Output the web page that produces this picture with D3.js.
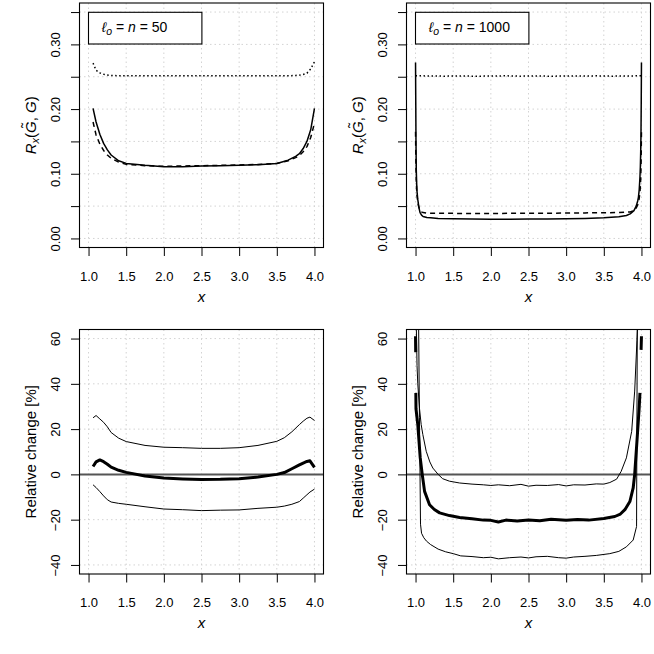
<!DOCTYPE html>
<html>
<head>
<meta charset="utf-8">
<script src="https://cdn.jsdelivr.net/npm/d3@7"></script>
<style>
  body { margin: 0; background: #fff; }
  text { font-family: "Liberation Sans", Arial, Helvetica, sans-serif; font-size: 13px; fill: #000; }
</style>
</head>
<body>
<svg id="chart" width="654" height="654"></svg>
<script>
// ---- data ----

// top left, l_o = n = 50
var tlX      = [1.06, 1.1, 1.15, 1.2, 1.25, 1.3, 1.4, 1.5, 1.75, 2.0, 2.25, 2.5, 2.75, 3.0, 3.25, 3.5, 3.65, 3.75, 3.8, 3.85, 3.9, 3.95, 4.0];
var tlSolid  = [0.201, 0.180, 0.161, 0.147, 0.137, 0.129, 0.120, 0.116, 0.113, 0.111, 0.111, 0.112, 0.1125, 0.113, 0.114, 0.116, 0.121, 0.127, 0.131, 0.139, 0.150, 0.168, 0.201];
var tlDashed = [0.180, 0.160, 0.146, 0.136, 0.129, 0.124, 0.118, 0.1145, 0.1125, 0.1115, 0.112, 0.1125, 0.113, 0.1135, 0.1145, 0.116, 0.120, 0.125, 0.128, 0.134, 0.142, 0.156, 0.178];
var tlDotted = [0.271, 0.260, 0.256, 0.254, 0.2525, 0.252, 0.2515, 0.2515, 0.2515, 0.2515, 0.2515, 0.2515, 0.2515, 0.2515, 0.2515, 0.2515, 0.2515, 0.252, 0.2525, 0.2535, 0.2555, 0.262, 0.273];

// top right, l_o = n = 1000
var trX      = [1.0, 1.003, 1.006, 1.01, 1.015, 1.02, 1.03, 1.04, 1.05, 1.06, 1.08, 1.1, 1.15, 1.2, 1.3, 1.5, 1.75, 2.0, 2.25, 2.5, 2.75, 3.0, 3.25, 3.5, 3.7, 3.8, 3.85, 3.9, 3.93, 3.95, 3.96, 3.97, 3.98, 3.985, 3.99, 3.994, 3.997, 4.0];
var trSolid  = [0.272, 0.21, 0.15, 0.105, 0.085, 0.072, 0.060, 0.052, 0.045, 0.040, 0.036, 0.034, 0.0325, 0.032, 0.031, 0.0305, 0.030, 0.0295, 0.0297, 0.030, 0.030, 0.0303, 0.031, 0.032, 0.0335, 0.0355, 0.038, 0.043, 0.050, 0.058, 0.064, 0.075, 0.095, 0.11, 0.135, 0.165, 0.21, 0.272];
var trDashed = [0.165, 0.135, 0.11, 0.090, 0.075, 0.066, 0.056, 0.050, 0.046, 0.043, 0.041, 0.040, 0.039, 0.039, 0.0388, 0.0388, 0.0385, 0.0385, 0.0388, 0.039, 0.039, 0.0392, 0.0395, 0.0398, 0.040, 0.0405, 0.041, 0.043, 0.047, 0.052, 0.056, 0.062, 0.072, 0.080, 0.092, 0.11, 0.135, 0.165];
var trDotX   = [1.0, 1.2, 1.4, 1.6, 1.8, 2.0, 2.2, 2.4, 2.6, 2.8, 3.0, 3.2, 3.4, 3.6, 3.8, 4.0];
var trDotted = [0.2515, 0.2512, 0.2509, 0.2513, 0.2508, 0.2511, 0.2514, 0.2509, 0.2512, 0.2508, 0.2513, 0.2510, 0.2514, 0.2509, 0.2512, 0.2515];

// bottom left, relative change [%]
var blX     = [1.06, 1.1, 1.15, 1.2, 1.25, 1.3, 1.4, 1.5, 1.75, 2.0, 2.25, 2.5, 2.75, 3.0, 3.25, 3.5, 3.6, 3.7, 3.8, 3.85, 3.9, 3.94, 4.0];
var blUpper = [25, 26, 24.5, 23, 21, 18.5, 16, 14.5, 12.8, 12.0, 11.8, 11.5, 11.5, 11.8, 12.8, 14.6, 16.2, 18.8, 22, 23.5, 24.8, 25.3, 23.8];
var blMid   = [3.5, 5.5, 6.4, 5.6, 4.5, 3.2, 1.8, 0.9, -0.7, -1.6, -2.0, -2.3, -2.2, -1.9, -1.2, 0.0, 0.8, 2.5, 4.2, 5.0, 5.7, 6.0, 3.1];
var blLower = [-4.6, -5.8, -7.6, -9.5, -11.2, -12.2, -12.8, -13.2, -14.3, -15.3, -15.6, -16.0, -15.8, -15.7, -15.0, -14.5, -14.0, -13.2, -12.0, -10.5, -9.0, -7.8, -6.5];

// bottom right, relative change [%]  (null = gap in the line)
var brUpX  = [1.008, 1.02, 1.03, 1.053, 1.075, 1.097, 1.142, 1.19, 1.23, 1.3, 1.36, 1.45, 1.585, 1.75, 1.9, 2.0, 2.1, 2.25, 2.4, 2.5, 2.6, 2.75, 2.9, 3.0, 3.1, 3.25, 3.4, 3.5, 3.58, 3.67, 3.73, 3.8, 3.87, 3.91, 3.94, 3.955];
var brUp   = [70, 48, 40, 29, 22, 17.6, 10.2, 5.5, 2.8, 0, -1.9, -3.0, -3.8, -4.3, -4.6, -4.9, -4.6, -5.0, -4.4, -5.2, -4.8, -4.9, -4.5, -5.1, -4.6, -4.7, -4.2, -4.3, -3.6, -2.1, 1.3, 7.3, 19, 36.8, 59, 70];
var brMidX = [1.0, 1.002, 1.003, 1.004, 1.006, 1.03, 1.062, 1.089, 1.12, 1.186, 1.25, 1.32, 1.45, 1.585, 1.75, 1.9, 2.0, 2.1, 2.2, 2.35, 2.5, 2.65, 2.8, 3.0, 3.15, 3.3, 3.5, 3.646, 3.72, 3.78, 3.846, 3.89, 3.91, 3.94, 3.97, 3.98, 3.985, 3.995, 4.0];
var brMid  = [61, 54, null, 36, 29, 22, 7.4, 0, -7.5, -13.4, -15.5, -17, -18.2, -19, -19.6, -20.2, -20.3, -21, -20.2, -20.6, -20.1, -20.5, -19.8, -20.3, -19.9, -20.2, -19.5, -18.6, -17.5, -15.6, -12, -6, 0, 14.6, 29.6, 36, null, 55, 61];
var brLowX = [1.04, 1.052, 1.066, 1.08, 1.11, 1.146, 1.2, 1.3, 1.4, 1.5, 1.6, 1.75, 1.9, 2.0, 2.1, 2.25, 2.4, 2.5, 2.6, 2.75, 2.9, 3.0, 3.1, 3.25, 3.4, 3.58, 3.7, 3.8, 3.89, 3.935, 3.945];
var brLow  = [70, 25, -22, -26, -28, -29.5, -31, -33, -34.2, -35, -36, -36.3, -36.8, -36.6, -37.3, -36.8, -36.5, -36.9, -36.4, -36.2, -36.8, -37, -36.5, -36.2, -35.8, -35, -34, -32, -29, -23, 70];

// ticks
var xTicks   = [1, 1.5, 2, 2.5, 3, 3.5, 4];
var topTicks = [0, 0.05, 0.1, 0.15, 0.2, 0.25, 0.3, 0.35];
var botTicks = [-40, -20, 0, 20, 40, 60];

// ---- drawing ----
var svg = d3.select('#chart');
var panelW = 244, panelH = 244.5;
var labSize = '15px';

function zip(xs, ys) {
  return xs.map(function (d, i) { return [d, ys[i]]; });
}

function drawPanel(p) {
  var left = 79.5 + p.col * 327;
  var top = p.row === 0 ? 3 : 329.5;
  var x = d3.scaleLinear().domain([0.88, 4.12]).range([left, left + panelW]);
  var y = d3.scaleLinear().domain(p.yDomain).range([top + panelH, top]);
  var g = svg.append('g');

  g.append('clipPath').attr('id', 'clip' + p.id)
    .append('rect').attr('x', left).attr('y', top).attr('width', panelW).attr('height', panelH);

  // grid
  g.append('g').selectAll('line').data(xTicks).join('line')
    .attr('x1', function (d) { return x(d); }).attr('x2', function (d) { return x(d); })
    .attr('y1', top).attr('y2', top + panelH)
    .attr('stroke', '#d3d3d3').attr('stroke-dasharray', '1.5,3');
  g.append('g').selectAll('line').data(p.yTicks).join('line')
    .attr('y1', function (d) { return y(d); }).attr('y2', function (d) { return y(d); })
    .attr('x1', left).attr('x2', left + panelW)
    .attr('stroke', '#d3d3d3').attr('stroke-dasharray', '1.5,3');

  var plot = g.append('g').attr('clip-path', 'url(#clip' + p.id + ')');

  if (p.zero) {
    plot.append('line')
      .attr('x1', left).attr('x2', left + panelW)
      .attr('y1', y(0)).attr('y2', y(0))
      .attr('stroke', '#555').attr('stroke-width', 2);
  }

  var line = d3.line()
    .defined(function (d) { return d[1] !== null; })
    .x(function (d) { return x(d[0]); })
    .y(function (d) { return y(d[1]); });

  p.series.forEach(function (s) {
    plot.append('path')
      .attr('d', line(zip(s.x, s.y)))
      .attr('fill', 'none')
      .attr('stroke', '#000')
      .attr('stroke-width', s.w)
      .attr('stroke-linejoin', 'round')
      .attr('stroke-dasharray', s.dash || null);
  });

  // box
  g.append('rect').attr('x', left).attr('y', top).attr('width', panelW).attr('height', panelH)
    .attr('fill', 'none').attr('stroke', '#000').attr('stroke-width', 1.1);

  // axes
  var xa = g.append('g').attr('transform', 'translate(0,' + (top + panelH) + ')')
    .call(d3.axisBottom(x).tickValues(xTicks).tickSize(8.5).tickFormat(d3.format('.1f')));
  xa.select('.domain').remove();
  xa.selectAll('text').attr('y', 33).attr('dy', null)
    .style('font-family', '"Liberation Sans", Arial, sans-serif').style('font-size', '13px');

  var ya = g.append('g').attr('transform', 'translate(' + left + ',0)')
    .call(d3.axisLeft(y).tickValues(p.yTicks).tickSize(8.5).tickFormat(p.fmt));
  ya.select('.domain').remove();
  ya.selectAll('text')
    .attr('x', 0).attr('y', -19.5).attr('dy', null)
    .attr('transform', 'rotate(-90)').attr('text-anchor', 'middle')
    .style('font-family', '"Liberation Sans", Arial, sans-serif').style('font-size', '13px');

  // x title
  g.append('text').attr('x', left + panelW / 2).attr('y', top + panelH + 54)
    .attr('text-anchor', 'middle').style('font-style', 'italic').style('font-size', labSize).text('x');

  // y title
  var yt = g.append('text')
    .attr('transform', 'translate(' + (left - 44) + ',' + (top + panelH / 2) + ') rotate(-90)')
    .attr('text-anchor', 'middle').style('font-size', labSize);
  p.yTitle(yt);

  // legend
  if (p.legend) {
    g.append('rect').attr('x', left + 9).attr('y', top + 9.3).attr('width', 113.4).attr('height', 31.7)
      .attr('fill', '#fff').attr('stroke', '#000').attr('stroke-width', 1.1);
    var lt = g.append('text').attr('x', left + 22.2).attr('y', top + 29).style('font-size', '14px');
    lt.append('tspan').style('font-style', 'italic').text('\u2113');
    lt.append('tspan').style('font-style', 'italic').style('font-size', '10.5px').attr('dy', 3).text('o');
    lt.append('tspan').attr('dy', -3).text('\u00a0=\u00a0');
    lt.append('tspan').style('font-style', 'italic').text('n');
    lt.append('tspan').text('\u00a0=\u00a0' + p.legend);
  }
}

function rTitle(t) {
  t.append('tspan').style('font-style', 'italic').text('R');
  t.append('tspan').style('font-style', 'italic').style('font-size', '11px').attr('dy', 3).text('x');
  t.append('tspan').attr('dy', -3).text('(');
  t.append('tspan').style('font-style', 'italic').text('G');
  t.append('tspan').attr('dx', -6.6).attr('dy', -3.5).text('\u02dc');
  t.append('tspan').attr('dx', 1.6).attr('dy', 3.5).text(',\u00a0');
  t.append('tspan').style('font-style', 'italic').text('G');
  t.append('tspan').text(')');
}

function relTitle(t) {
  t.text('Relative change [%]');
}

var topFmt = function (d) {
  return Math.round(d * 100) % 10 === 0 ? d3.format('.2f')(d) : '';
};

drawPanel({
  id: 'tl', col: 0, row: 0, yDomain: [-0.014, 0.364], yTicks: topTicks, fmt: topFmt,
  yTitle: rTitle, legend: '50',
  series: [
    { x: tlX, y: tlDotted, w: 1.5, dash: '1.5,2.5' },
    { x: tlX, y: tlDashed, w: 1.5, dash: '5,4' },
    { x: tlX, y: tlSolid, w: 1.5 }
  ]
});

drawPanel({
  id: 'tr', col: 1, row: 0, yDomain: [-0.014, 0.364], yTicks: topTicks, fmt: topFmt,
  yTitle: rTitle, legend: '1000',
  series: [
    { x: trDotX, y: trDotted, w: 1.5, dash: '1.5,2.5' },
    { x: trX, y: trDashed, w: 1.5, dash: '5,4' },
    { x: trX, y: trSolid, w: 1.5 }
  ]
});

drawPanel({
  id: 'bl', col: 0, row: 1, yDomain: [-44, 64], yTicks: botTicks, fmt: d3.format('d'),
  yTitle: relTitle, zero: true,
  series: [
    { x: blX, y: blUpper, w: 1 },
    { x: blX, y: blLower, w: 1 },
    { x: blX, y: blMid, w: 3 }
  ]
});

drawPanel({
  id: 'br', col: 1, row: 1, yDomain: [-44, 64], yTicks: botTicks, fmt: d3.format('d'),
  yTitle: relTitle, zero: true,
  series: [
    { x: brUpX, y: brUp, w: 1 },
    { x: brLowX, y: brLow, w: 1 },
    { x: brMidX, y: brMid, w: 3 }
  ]
});
</script>
</body>
</html>
